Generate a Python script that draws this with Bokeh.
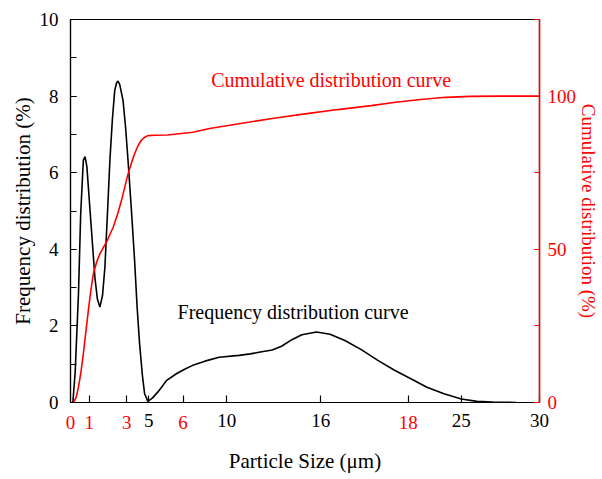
from bokeh.plotting import figure
from bokeh.models import Range1d, LinearAxis, FixedTicker, Label
from bokeh.embed import file_html
from bokeh.resources import INLINE

# ---- data ----
size_freq = [0.15, 0.3, 0.51, 0.65, 0.82, 0.93, 1.05, 1.25, 1.56, 1.72, 1.88, 2.05, 2.2, 2.36,
             2.52, 2.68, 2.83, 2.95, 3.04, 3.15, 3.36, 3.52, 3.68, 3.9, 4.1, 4.26, 4.42, 4.6,
             4.74, 4.95, 5.25, 5.58, 5.9, 6.13, 6.77, 7.3, 7.82, 8.6, 9.51, 10.78, 11.5, 12.05,
             12.9, 13.5, 14.16, 14.8, 15.74, 16.6, 17.55, 18.6, 19.66, 20.7, 21.77, 22.8, 23.89,
             25.0, 26.0, 27.0, 28.5]
freq = [0.0, 0.8, 2.84, 4.9, 6.32, 6.42, 6.15, 5.01, 3.27, 2.7, 2.49, 2.8, 3.53, 4.9,
        6.32, 7.4, 8.15, 8.35, 8.39, 8.3, 7.89, 7.2, 6.32, 5.0, 3.71, 2.5, 1.53, 0.7,
        0.23, 0.03, 0.12, 0.27, 0.44, 0.57, 0.75, 0.87, 0.97, 1.08, 1.18, 1.23, 1.27, 1.31,
        1.37, 1.47, 1.64, 1.77, 1.84, 1.78, 1.62, 1.38, 1.1, 0.85, 0.62, 0.4, 0.23,
        0.09, 0.03, 0.01, 0.0]

size_cum = [0.19, 0.35, 0.51, 0.67, 0.82, 1.14, 1.3, 1.46, 1.67, 1.88, 2.09, 2.3, 2.73, 3.0,
            3.26, 3.68, 3.9, 4.1, 4.32, 4.52, 4.75, 4.95, 5.4, 6.21, 7.82, 8.9, 10.78, 12.9, 15.0,
            17.1, 19.23, 20.8, 22.4, 24.0, 25.57, 27.5, 30.0]
cum = [0.0, 1.5, 5.0, 10.0, 15.9, 30.0, 36.5, 42.0, 45.8, 48.5, 50.5, 52.3, 57.2, 61.3,
       65.9, 74.6, 78.2, 81.2, 83.8, 85.5, 86.6, 87.1, 87.2, 87.3, 88.2, 89.4, 91.0, 92.7, 94.2,
       95.6, 96.9, 98.0, 98.9, 99.6, 99.9, 100.0, 100.0]

x_black_ticks = [5, 10, 16, 25, 30]
x_red_ticks = [0, 1, 3, 6, 18]          # secondary size scale (0-25)
y_left_ticks = [0, 2, 4, 6, 8, 10]
y_left_minor = [0, 1, 2, 3, 4, 5, 6, 7, 8, 9, 10]
y_right_ticks = [0, 50, 100]
y_right_minor = [0, 25, 50, 75, 100, 125]

FONT = "Liberation Serif"
RED = "#ff0000"
TICK_FS = "19px"
TITLE_FS = "21px"

p = figure(width=602, height=479, x_range=Range1d(0, 30), y_range=Range1d(0, 10),
           output_backend="svg", toolbar_location=None, x_axis_location=None,
           min_border_left=70, min_border_right=59, min_border_top=19, min_border_bottom=77)
p.extra_y_ranges = {"cum": Range1d(0, 125)}
p.extra_x_ranges = {"red": Range1d(0, 25)}
p.grid.visible = False
p.outline_line_color = "black"
p.outline_line_width = 1.2
p.background_fill_color = "white"
p.border_fill_color = "white"

# curves
p.line(size_freq, freq, line_color="black", line_width=1.6)
p.line(size_cum, cum, line_color=RED, line_width=1.6, y_range_name="cum")

# bottom axis (black labels, ticks for both scales)
xa = LinearAxis(ticker=FixedTicker(ticks=x_black_ticks,
                                   minor_ticks=[t * 30 / 25 for t in x_red_ticks if t > 0]))
xa.axis_line_color = "black"
xa.axis_line_width = 1.2
xa.major_tick_in = 7
xa.major_tick_out = 0
xa.minor_tick_in = 7
xa.minor_tick_out = 0
xa.major_tick_line_color = "black"
xa.minor_tick_line_color = "black"
xa.major_tick_line_width = 1.2
xa.minor_tick_line_width = 1.2
xa.major_label_standoff = 11
xa.major_label_text_font = FONT
xa.major_label_text_font_size = TICK_FS
xa.major_label_text_color = "black"
p.add_layout(xa, "below")

# second bottom axis: red labels of the secondary scale, pulled up into the same row
xr = LinearAxis(x_range_name="red", ticker=FixedTicker(ticks=x_red_ticks, minor_ticks=[]))
xr.axis_line_color = None
xr.major_tick_line_color = None
xr.minor_tick_line_color = None
xr.major_tick_in = 0
xr.major_tick_out = 0
xr.minor_tick_in = 0
xr.minor_tick_out = 0
xr.major_label_standoff = -14
xr.major_label_text_font = FONT
xr.major_label_text_font_size = TICK_FS
xr.major_label_text_color = RED
xr.axis_label = "Particle Size (μm)"
xr.axis_label_text_font = FONT
xr.axis_label_text_font_size = TITLE_FS
xr.axis_label_text_font_style = "normal"
xr.axis_label_text_color = "black"
xr.axis_label_standoff = 17
p.add_layout(xr, "below")

# left axis
ya = p.yaxis[0]
ya.ticker = FixedTicker(ticks=y_left_ticks, minor_ticks=y_left_minor)
ya.axis_line_color = "black"
ya.axis_line_width = 1.2
ya.major_tick_line_color = "black"
ya.minor_tick_line_color = "black"
ya.major_tick_in = 6
ya.major_tick_out = 0
ya.minor_tick_in = 6
ya.minor_tick_out = 0
ya.major_tick_line_width = 1.2
ya.minor_tick_line_width = 1.2
ya.major_label_standoff = 12
ya.major_label_text_font = FONT
ya.major_label_text_font_size = TICK_FS
ya.major_label_text_color = "black"
ya.axis_label = "Frequency distribution (%)"
ya.axis_label_text_font = FONT
ya.axis_label_text_font_size = TITLE_FS
ya.axis_label_text_font_style = "normal"
ya.axis_label_text_color = "black"
ya.axis_label_standoff = 2

# right axis
ra = LinearAxis(y_range_name="cum",
                ticker=FixedTicker(ticks=y_right_ticks, minor_ticks=y_right_minor))
ra.axis_line_color = RED
ra.axis_line_width = 1.5
ra.major_tick_line_color = RED
ra.minor_tick_line_color = RED
ra.major_tick_in = 5
ra.major_tick_out = 0
ra.minor_tick_in = 5
ra.minor_tick_out = 0
ra.major_label_standoff = 8
ra.major_label_text_font = FONT
ra.major_label_text_font_size = TICK_FS
ra.major_label_text_color = RED
ra.axis_label = "Cumulative distribution (%)"
ra.axis_label_text_font = FONT
ra.axis_label_text_font_size = "19px"
ra.axis_label_text_font_style = "normal"
ra.axis_label_text_color = RED
ra.axis_label_standoff = -1
p.add_layout(ra, "right")

# curve captions
p.add_layout(Label(x=9.0, y=8.43, text="Cumulative distribution curve",
                   text_color=RED, text_font=FONT, text_font_size="20px",
                   text_align="left", text_baseline="alphabetic"))
p.add_layout(Label(x=6.85, y=2.35, text="Frequency distribution curve",
                   text_color="black", text_font=FONT, text_font_size="20px",
                   text_align="left", text_baseline="alphabetic"))

open("out.html", "w").write(file_html(p, INLINE))
